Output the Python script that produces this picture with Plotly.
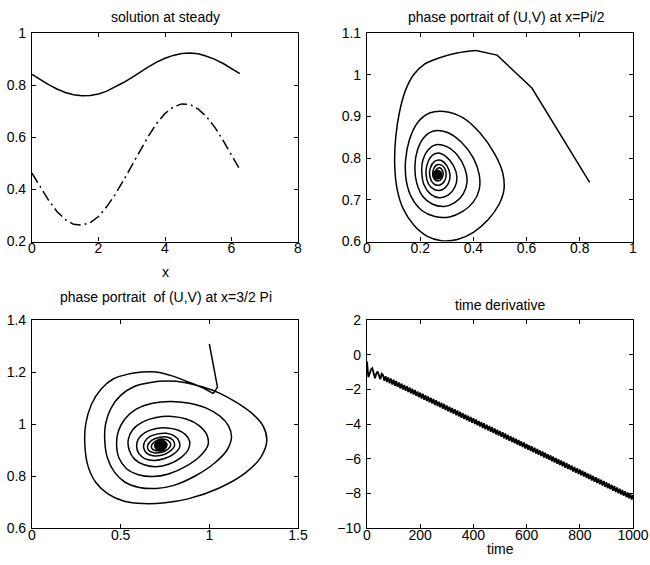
import plotly.graph_objects as go

# ---- steady-state profiles u(x), v(x) on [0, 2*pi] ----
x_steady = [0.0, 0.25, 0.5, 0.75, 1.0, 1.25, 1.5, 1.75, 2.0, 2.25, 2.5, 2.75, 3.0,
            3.25, 3.5, 3.75, 4.0, 4.25, 4.5, 4.75, 5.0, 5.25, 5.5, 5.75, 6.0, 6.25]
u_steady = [0.841, 0.821, 0.802, 0.785, 0.772, 0.763, 0.759, 0.760, 0.766, 0.777,
            0.792, 0.810, 0.829, 0.850, 0.870, 0.888, 0.903, 0.914, 0.921, 0.923,
            0.920, 0.911, 0.899, 0.883, 0.864, 0.844]
v_steady = [0.462, 0.409, 0.358, 0.315, 0.284, 0.266, 0.263, 0.272, 0.296, 0.334,
            0.380, 0.434, 0.492, 0.550, 0.604, 0.653, 0.691, 0.716, 0.728, 0.726,
            0.708, 0.679, 0.638, 0.587, 0.531, 0.477]

# ---- phase portrait at x = pi/2 ----
u_half_start = [0.837, 0.62, 0.489, 0.41]
v_half_start = [0.742, 0.968, 1.047, 1.058]
u_half = [0.41, 0.338, 0.27, 0.215, 0.175, 0.145, 0.122, 0.108, 0.104, 0.112, 0.135, 0.175,
          0.225, 0.28, 0.34, 0.40, 0.455, 0.497, 0.515, 0.51, 0.48, 0.425, 0.36, 0.29,
          0.235, 0.19, 0.16, 0.145, 0.148, 0.168, 0.205, 0.255, 0.31, 0.36, 0.4, 0.422,
          0.422, 0.4, 0.355, 0.3, 0.25, 0.215, 0.19, 0.18, 0.187, 0.21, 0.245, 0.29,
          0.33, 0.362, 0.376, 0.368, 0.34, 0.298, 0.258, 0.23, 0.21, 0.206, 0.215, 0.24,
          0.272, 0.305, 0.33, 0.338, 0.325, 0.298, 0.268, 0.243, 0.226, 0.222, 0.232,
          0.255, 0.283, 0.305, 0.312, 0.3, 0.277, 0.254, 0.238, 0.237, 0.25, 0.272,
          0.292, 0.297, 0.285, 0.264, 0.249, 0.25, 0.265, 0.282, 0.285, 0.272, 0.258,
          0.257, 0.27, 0.277, 0.267]
v_half = [1.058, 1.052, 1.04, 1.025, 1.0, 0.963, 0.91, 0.85, 0.79, 0.73, 0.68, 0.64,
          0.613, 0.602, 0.605, 0.622, 0.652, 0.69, 0.725, 0.765, 0.81, 0.86, 0.897, 0.912,
          0.908, 0.885, 0.845, 0.795, 0.745, 0.705, 0.675, 0.66, 0.659, 0.672, 0.695, 0.725,
          0.76, 0.8, 0.838, 0.862, 0.865, 0.85, 0.82, 0.78, 0.74, 0.708, 0.69, 0.684,
          0.693, 0.714, 0.742, 0.775, 0.807, 0.828, 0.832, 0.82, 0.795, 0.765, 0.735, 0.713,
          0.705, 0.711, 0.73, 0.755, 0.782, 0.803, 0.812, 0.805, 0.785, 0.76, 0.737,
          0.724, 0.724, 0.738, 0.76, 0.782, 0.795, 0.792, 0.776, 0.754, 0.739, 0.735,
          0.746, 0.765, 0.781, 0.784, 0.771, 0.753, 0.745, 0.752, 0.768, 0.777, 0.77,
          0.756, 0.752, 0.762, 0.768]
u_half_eq = [0.265]
v_half_eq = [0.76]

# ---- phase portrait at x = 3/2 pi ----
u_three_start = [1.0, 1.046, 1.022]
v_three_start = [1.308, 1.142, 1.117]
u_three = [1.022, 0.96, 0.88, 0.79, 0.7, 0.62, 0.55, 0.46, 0.39, 0.335, 0.303, 0.298,
           0.315, 0.36, 0.43, 0.52, 0.627, 0.75, 0.88, 1.05, 1.2, 1.29, 1.324, 1.305,
           1.25, 1.16, 1.06, 0.96, 0.86, 0.76, 0.67, 0.58, 0.5, 0.445, 0.415, 0.41,
           0.425, 0.465, 0.525, 0.605, 0.7, 0.8, 0.92, 1.03, 1.1, 1.125, 1.108, 1.06,
           0.98, 0.88, 0.78, 0.68, 0.59, 0.525, 0.486, 0.477, 0.49, 0.532, 0.6, 0.68,
           0.77, 0.87, 0.95, 0.993, 0.985, 0.94, 0.87, 0.79, 0.7, 0.625, 0.568, 0.543,
           0.548, 0.578, 0.632, 0.7, 0.77, 0.838, 0.882, 0.888, 0.864, 0.818, 0.76,
           0.695, 0.637, 0.6, 0.59, 0.603, 0.638, 0.69, 0.748, 0.8, 0.832, 0.828, 0.8,
           0.757, 0.71, 0.665, 0.636, 0.63, 0.646, 0.683, 0.73, 0.773, 0.803, 0.795,
           0.76, 0.715, 0.675, 0.652, 0.658, 0.688, 0.73, 0.768, 0.783, 0.768, 0.738,
           0.705, 0.678, 0.675, 0.695, 0.727, 0.755, 0.76, 0.742, 0.715, 0.695, 0.702,
           0.727, 0.745, 0.735, 0.715]
v_three = [1.117, 1.14, 1.162, 1.185, 1.2, 1.2, 1.193, 1.174, 1.135, 1.075, 1.0, 0.92,
           0.84, 0.775, 0.73, 0.703, 0.694, 0.697, 0.712, 0.752, 0.81, 0.872, 0.935, 0.99,
           1.035, 1.08, 1.118, 1.143, 1.16, 1.165, 1.16, 1.145, 1.11, 1.06, 1.0, 0.94,
           0.87, 0.815, 0.776, 0.756, 0.752, 0.764, 0.8, 0.85, 0.9, 0.95, 0.993, 1.03,
           1.062, 1.081, 1.087, 1.08, 1.058, 1.02, 0.97, 0.92, 0.87, 0.829, 0.805, 0.798,
           0.808, 0.838, 0.878, 0.92, 0.96, 0.995, 1.019, 1.029, 1.025, 1.008, 0.978, 0.94,
           0.9, 0.865, 0.843, 0.836, 0.845, 0.87, 0.903, 0.935, 0.96, 0.978, 0.985,
           0.982, 0.967, 0.943, 0.913, 0.886, 0.866, 0.86, 0.867, 0.885, 0.91, 0.935, 0.955,
           0.964, 0.962, 0.952, 0.932, 0.908, 0.888, 0.878, 0.88, 0.893, 0.915, 0.938,
           0.95, 0.948, 0.937, 0.917, 0.899, 0.889, 0.891, 0.904, 0.92, 0.936, 0.942,
           0.937, 0.923, 0.907, 0.898, 0.9, 0.91, 0.925, 0.933, 0.93, 0.918, 0.906,
           0.906, 0.916, 0.925, 0.922]
u_three_eq = [0.725]
v_three_eq = [0.918]

# ---- time derivative, sampled every 5 time units (one row per 100 units) ----
t_deriv = list(range(0, 1001, 5))
d_deriv = [
    -0.40, -1.30, -1.10, -0.85, -0.78, -1.10, -1.36, -1.10, -0.97, -1.20,
    -1.42, -1.10, -1.17, -1.51, -1.24, -1.58, -1.31, -1.65, -1.38, -1.72,
    -1.45, -1.79, -1.52, -1.86, -1.60, -1.94, -1.67, -2.01, -1.75, -2.08,
    -1.82, -2.16, -1.89, -2.23, -1.97, -2.30, -2.04, -2.38, -2.12, -2.45,
    -2.19, -2.53, -2.26, -2.60, -2.34, -2.67, -2.41, -2.75, -2.49, -2.82,
    -2.56, -2.90, -2.63, -2.97, -2.71, -3.04, -2.78, -3.12, -2.85, -3.19,
    -2.93, -3.27, -3.00, -3.34, -3.08, -3.41, -3.15, -3.49, -3.22, -3.56,
    -3.30, -3.64, -3.37, -3.71, -3.45, -3.78, -3.52, -3.86, -3.59, -3.93,
    -3.67, -4.00, -3.74, -4.08, -3.82, -4.15, -3.89, -4.23, -3.96, -4.30,
    -4.04, -4.37, -4.11, -4.45, -4.18, -4.52, -4.26, -4.60, -4.33, -4.67,
    -4.41, -4.74, -4.48, -4.82, -4.55, -4.89, -4.63, -4.97, -4.70, -5.04,
    -4.78, -5.11, -4.85, -5.19, -4.92, -5.26, -5.00, -5.33, -5.07, -5.41,
    -5.15, -5.48, -5.22, -5.56, -5.29, -5.63, -5.37, -5.70, -5.44, -5.78,
    -5.52, -5.85, -5.59, -5.93, -5.66, -6.00, -5.74, -6.07, -5.81, -6.15,
    -5.88, -6.22, -5.96, -6.30, -6.03, -6.37, -6.11, -6.44, -6.18, -6.52,
    -6.25, -6.59, -6.33, -6.66, -6.40, -6.74, -6.48, -6.81, -6.55, -6.89,
    -6.62, -6.96, -6.70, -7.03, -6.77, -7.11, -6.85, -7.18, -6.92, -7.26,
    -6.99, -7.33, -7.07, -7.40, -7.14, -7.48, -7.21, -7.55, -7.29, -7.63,
    -7.36, -7.70, -7.44, -7.77, -7.51, -7.85, -7.58, -7.92, -7.66, -8.00,
    -7.73, -8.07, -7.81, -8.14, -7.88, -8.22, -7.95, -8.29, -8.03, -8.36,
    -8.10,
]

W, H = 650, 565
FONT = "Liberation Sans, Arial, Helvetica, sans-serif"
LW = 1.5


def px_x(p):
    return p / W


def px_y(p):
    return 1 - p / H


col1 = [px_x(32), px_x(298)]
col2 = [px_x(367), px_x(633)]
row1 = [px_y(241.5), px_y(33)]
row2 = [px_y(528), px_y(320)]

fig = go.Figure()
black = dict(color="black", width=LW)

fig.add_trace(go.Scatter(x=x_steady, y=u_steady, mode="lines", line=black,
                         xaxis="x", yaxis="y"))
fig.add_trace(go.Scatter(x=x_steady, y=v_steady, mode="lines",
                         line=dict(color="black", width=LW, dash="11px,4px,2px,4px"),
                         xaxis="x", yaxis="y"))

fig.add_trace(go.Scatter(x=u_half_start, y=v_half_start, mode="lines", line=black,
                         xaxis="x2", yaxis="y2"))
fig.add_trace(go.Scatter(x=u_half, y=v_half, mode="lines",
                         line=dict(color="black", width=LW, shape="spline"),
                         xaxis="x2", yaxis="y2"))
fig.add_trace(go.Scatter(x=u_half_eq, y=v_half_eq, mode="markers",
                         marker=dict(color="black", size=10),
                         xaxis="x2", yaxis="y2"))

fig.add_trace(go.Scatter(x=u_three_start, y=v_three_start, mode="lines", line=black,
                         xaxis="x3", yaxis="y3"))
fig.add_trace(go.Scatter(x=u_three, y=v_three, mode="lines",
                         line=dict(color="black", width=LW, shape="spline"),
                         xaxis="x3", yaxis="y3"))
fig.add_trace(go.Scatter(x=u_three_eq, y=v_three_eq, mode="markers",
                         marker=dict(color="black", size=13),
                         xaxis="x3", yaxis="y3"))

fig.add_trace(go.Scatter(x=t_deriv, y=d_deriv, mode="lines",
                         line=dict(color="black", width=1.8),
                         xaxis="x4", yaxis="y4"))


def ax(domain, rng, dtick, anchor, standoff):
    return dict(domain=domain, range=rng, dtick=dtick, tick0=rng[0], anchor=anchor,
                automargin=False,
                showline=True, linecolor="black", linewidth=1.2, mirror="ticks",
                ticks="inside", ticklen=4, tickwidth=1, tickcolor="black",
                showgrid=False, zeroline=False, ticklabelstandoff=standoff,
                tickfont=dict(family=FONT, size=14, color="black"))


fig.update_layout(
    width=W, height=H, margin=dict(l=0, r=0, t=0, b=0, autoexpand=False),
    paper_bgcolor="white", plot_bgcolor="white", showlegend=False,
    xaxis=ax(col1, [0, 8], 2, "y", -6),
    yaxis=ax(row1, [0.2, 1], 0.2, "x", 2),
    xaxis2=ax(col2, [0, 1], 0.2, "y2", -6),
    yaxis2=ax(row1, [0.6, 1.1], 0.1, "x2", 2),
    xaxis3=ax(col1, [0, 1.5], 0.5, "y3", -6),
    yaxis3=ax(row2, [0.6, 1.4], 0.2, "x3", 2),
    xaxis4=ax(col2, [0, 1000], 200, "y4", -6),
    yaxis4=ax(row2, [-10, 2], 2, "x4", 2),
)

texts = [
    ("solution at steady", 165, 16.7),
    ("phase portrait of (U,V) at x=Pi/2", 506, 17.3),
    ("phase portrait  of (U,V) at x=3/2 Pi", 165.5, 296.7),
    ("time derivative", 499.5, 305),
    ("x", 165, 271.5),
    ("time", 500, 549),
]
for txt, cx, cy in texts:
    fig.add_annotation(text=txt.replace("  ", "&nbsp; "), x=px_x(cx), y=px_y(cy),
                       xref="paper", yref="paper", xanchor="center", yanchor="middle",
                       showarrow=False, font=dict(family=FONT, size=14, color="black"))

fig.write_html("out.html")
